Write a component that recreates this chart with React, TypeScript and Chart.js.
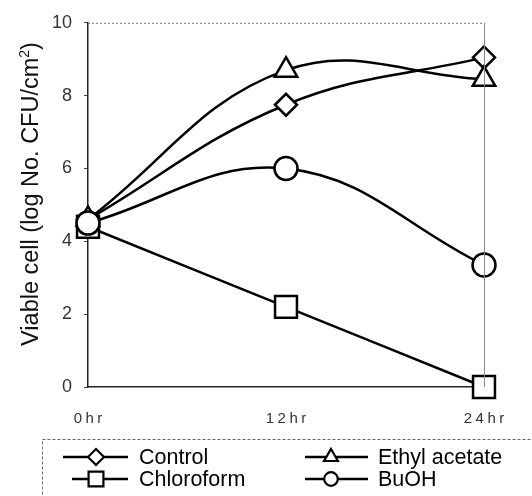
import React, { useEffect, useRef } from "react";
import { Chart, registerables } from "chart.js";
import { drawPoint } from "chart.js/helpers";

Chart.register(...registerables);

const categories = ["0hr", "12hr", "24hr"];
const seriesNames = ["Control", "Ethyl acetate", "Chloroform", "BuOH"];
const controlValues = [4.6, 7.75, 9.05];
const ethylAcetateValues = [4.6, 8.7, 8.45];
const chloroformValues = [4.4, 2.2, 0];
const buohValues = [4.5, 6.0, 3.35];
const yTicks = [0, 2, 4, 6, 8, 10];

const pointStyles = ["rectRot", "triangle", "rect", "circle"];
const pointRadii = [11, 13, 15.5, 11.5];
const legendRadii = [8, 8, 10.5, 6.8];
const drawOrder = [3, 2, 1, 0];

const FONT = "'Liberation Sans', Arial, sans-serif";

export default function App() {
  const ref = useRef<HTMLCanvasElement | null>(null);

  useEffect(() => {
    const canvas = ref.current;
    if (!canvas) return;
    const values = [controlValues, ethylAcetateValues, chloroformValues, buohValues];

    const plugin = {
      id: "custom",
      afterDraw(chart: any) {
        const ctx = chart.ctx as CanvasRenderingContext2D;
        const a = chart.chartArea;
        ctx.save();
        // top dotted border and right border
        ctx.strokeStyle = "#777";
        ctx.lineWidth = 1;
        ctx.setLineDash([2, 2]);
        ctx.beginPath();
        ctx.moveTo(a.left, a.top + 0.5);
        ctx.lineTo(a.right, a.top + 0.5);
        ctx.stroke();
        ctx.setLineDash([]);
        ctx.strokeStyle = "#888";
        ctx.beginPath();
        ctx.moveTo(a.right + 0.5, a.top);
        ctx.lineTo(a.right + 0.5, a.bottom);
        ctx.stroke();

        // x tick labels (letter-spaced)
        const xs = chart.scales.x;
        ctx.font = `15px ${FONT}`;
        (ctx as any).letterSpacing = "3.5px";
        ctx.fillStyle = "#333";
        ctx.textAlign = "left";
        ctx.textBaseline = "middle";
        categories.forEach((c, i) => {
          const px = xs.getPixelForTick(i);
          const w = ctx.measureText(c).width - 3.5;
          ctx.fillText(c, px - w / 2, 419);
        });
        (ctx as any).letterSpacing = "0px";
        ctx.restore();

        // y title
        ctx.save();
        ctx.fillStyle = "#111";
        ctx.translate(38, 194);
        ctx.rotate(-Math.PI / 2);
        ctx.textBaseline = "alphabetic";
        const big = `23.5px ${FONT}`;
        const small = `14px ${FONT}`;
        ctx.font = big;
        const main = "Viable cell (log No. CFU/cm";
        const wMain = ctx.measureText(main).width;
        const wEnd = ctx.measureText(")").width;
        ctx.font = small;
        const wSup = ctx.measureText("2").width;
        const total = wMain + wSup + wEnd;
        let x = -total / 2;
        ctx.textAlign = "left";
        ctx.font = big;
        ctx.fillText(main, x, 0);
        x += wMain;
        ctx.font = small;
        ctx.fillText("2", x, -9);
        x += wSup;
        ctx.font = big;
        ctx.fillText(")", x, 0);
        ctx.restore();

        // legend
        ctx.save();
        ctx.strokeStyle = "#666";
        ctx.lineWidth = 1;
        ctx.setLineDash([3, 2]);
        ctx.strokeRect(42.5, 439.5, 520, 80);
        ctx.setLineDash([]);
        const items = [
          { i: 0, x0: 63, x1: 128, mx: 96, tx: 139, y: 457 },
          { i: 1, x0: 305, x1: 368, mx: 331, tx: 378, y: 457 },
          { i: 2, x0: 72, x1: 128, mx: 96, tx: 139, y: 479 },
          { i: 3, x0: 305, x1: 368, mx: 331, tx: 378, y: 479 },
        ];
        ctx.font = `21.5px ${FONT}`;
        ctx.textBaseline = "middle";
        ctx.textAlign = "left";
        for (const it of items) {
          ctx.strokeStyle = "#000";
          ctx.lineWidth = 2.5;
          ctx.beginPath();
          ctx.moveTo(it.x0, it.y);
          ctx.lineTo(it.x1, it.y);
          ctx.stroke();
          ctx.fillStyle = "#fff";
          ctx.lineWidth = 2.2;
          drawPoint(ctx, { pointStyle: pointStyles[it.i] as any, radius: legendRadii[it.i], rotation: 0, borderWidth: 2.2 }, it.mx, it.y);
          ctx.fillStyle = "#000";
          ctx.fillText(seriesNames[it.i], it.tx, it.y + 1);
        }
        ctx.restore();
      },
    };

    const chart = new Chart(canvas, {
      type: "line",
      data: {
        labels: categories,
        datasets: values.map((v, i) => ({
          label: seriesNames[i],
          data: v,
          order: drawOrder[i],
          borderColor: "#000",
          borderWidth: 2.5,
          backgroundColor: "#fff",
          pointStyle: pointStyles[i] as any,
          pointRadius: pointRadii[i],
          pointBorderWidth: 2.5,
          pointBorderColor: "#000",
          pointBackgroundColor: "#fff",
          tension: 0.4,
          clip: false as any,
          fill: false,
        })),
      },
      options: {
        responsive: false,
        animation: false,
        layout: { padding: { left: 0, right: 48, top: 17, bottom: 64 } },
        plugins: { legend: { display: false }, tooltip: { enabled: false } },
        scales: {
          x: {
            type: "category",
            offset: false,
            grid: { display: false },
            border: { display: true, color: "#222", width: 1.5 },
            ticks: { display: false },
            afterFit: (s: any) => {
              s.height = 45;
            },
          },
          y: {
            min: 0,
            max: 10,
            afterBuildTicks: (s: any) => {
              s.ticks = yTicks.map((v) => ({ value: v }));
            },
            grid: { drawOnChartArea: false, drawTicks: true, tickLength: 4, color: "#444" },
            border: { display: true, color: "#222", width: 1.5 },
            ticks: {
              padding: 12,
              color: "#333",
              font: { family: FONT, size: 18 },
            },
            afterFit: (s: any) => {
              s.width = 88;
            },
          },
        },
      },
      plugins: [plugin],
    });
    return () => chart.destroy();
  }, []);

  return (
    <div style={{ position: "fixed", left: 0, top: 0, width: 532, height: 496, background: "#fff" }}>
      <canvas ref={ref} width={532} height={496} style={{ display: "block" }} />
    </div>
  );
}
